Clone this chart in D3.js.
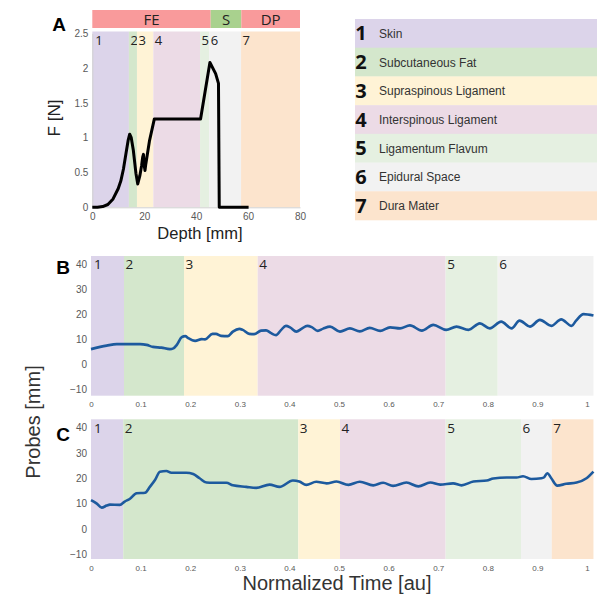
<!DOCTYPE html>
<html><head><meta charset="utf-8">
<script src="https://cdn.jsdelivr.net/npm/d3@7"></script>
<style>body{margin:0;background:#fff}svg{display:block}</style>
</head><body>
<svg id="c" width="611" height="596"></svg>
<script>
// ---- data ----
const tissueIds = [1,2,3,4,5,6,7];
const tissueNames = ["Skin","Subcutaneous Fat","Supraspinous Ligament","Interspinous Ligament","Ligamentum Flavum","Epidural Space","Dura Mater"];
const tissueColors = ["#dcd4ea","#d4e7cc","#fff3d6","#ecdbe6","#e5f0e1","#f2f2f2","#fce4cd"];

const phaseNames = ["FE","S","DP"];
const phaseEdges = [0,45.6,57.4,80];
const phaseColors = ["#f99a9b","#a9d18e","#f99a9b"];

const bandEdgesA = [0,14.1,17.2,23.5,41.5,45,57.3,80];
const bandEdgesB = [0,0.0665,0.1875,0.336,0.715,0.82,1.013];
const bandEdgesC = [0,0.065,0.418,0.502,0.715,0.867,0.929,1.013];

const depthA = [0,2,4,6,8,10,11,12,13,13.8,14.4,15,15.8,16.8,17.5,18.3,19.0,19.4,19.7,20.0,20.3,20.6,22,23.9,41.7,45.3,47.5,48.6,48.9,60.2];
const forceA = [0,0,0.01,0.04,0.12,0.27,0.38,0.55,0.78,0.96,1.05,1.0,0.82,0.49,0.335,0.45,0.6,0.72,0.76,0.6,0.53,0.62,0.95,1.27,1.27,2.08,1.92,1.78,0,0];

const timeB = [0,0.0316,0.052,0.0988,0.112,0.125,0.142,0.159,0.166,0.173,0.183,0.190,0.196,0.21,0.223,0.23,0.245,0.252,0.262,0.276,0.286,0.299,0.306,0.319,0.329,0.343,0.353,0.363,0.373,0.383,0.393,0.402,0.414,0.425,0.436,0.445,0.457,0.468,0.482,0.502,0.522,0.542,0.562,0.583,0.603,0.623,0.643,0.667,0.69,0.716,0.737,0.761,0.784,0.804,0.827,0.848,0.864,0.885,0.905,0.928,0.948,0.969,0.978,0.993,1.013];
const probeB = [6.0,7.4,8.0,8.0,7.7,6.9,6.6,6.0,6.3,7.7,10.8,11.2,10.4,9.3,10.0,9.9,12.1,12.1,11.3,11.2,13.0,14.1,13.7,12.1,12.0,13.4,13.5,12.4,11.6,13.6,15.3,14.6,13.0,14.2,15.3,14.8,13.3,14.2,15.0,13.0,14.3,13.1,14.5,13.3,14.7,14.3,15.5,13.4,15.7,13.7,15.0,13.7,16.3,14.3,17.0,14.3,17.4,15.0,17.7,15.3,17.9,15.3,17.4,20.0,19.4];

const timeC = [0,0.011,0.0215,0.0316,0.038,0.058,0.068,0.078,0.092,0.109,0.119,0.129,0.139,0.152,0.162,0.192,0.206,0.219,0.233,0.246,0.273,0.286,0.313,0.333,0.360,0.38,0.407,0.42,0.434,0.454,0.475,0.495,0.519,0.542,0.569,0.589,0.609,0.636,0.66,0.684,0.704,0.73,0.747,0.771,0.798,0.811,0.838,0.858,0.871,0.888,0.908,0.913,0.920,0.928,0.94,0.958,0.979,0.999,1.013];
const probeC = [11.4,10.1,8.4,9.2,9.6,9.5,10.8,11.8,14.1,14.3,16.7,19.3,22.6,22.9,22.2,22.2,21.7,20.0,18.3,18.2,18.2,17.2,16.6,16.2,17.5,16.6,19.1,18.7,17.4,18.6,18.0,18.7,17.4,18.6,17.2,18.2,17.0,18.3,16.8,18.3,17.5,18.0,17.2,18.7,19.1,19.9,20.3,20.3,20.8,19.7,20.0,20.3,22.0,20.0,17.1,17.8,18.3,20.0,22.6];

const ticksA_x = [0,20,40,60,80];
const ticksA_y = [0,0.5,1,1.5,2,2.5];
const ticksBC_x = [0,0.1,0.2,0.3,0.4,0.5,0.6,0.7,0.8,0.9,1];
const ticksBC_y = [-10,0,10,20,30,40];

// ---- drawing ----
const svg = d3.select("#c");
const tickCol = "#595959";
const sansF = "'Liberation Sans', Arial, sans-serif";
const digitF = "'Open Sans', 'Noto Sans', sans-serif";

// Panel A
const xA = d3.scaleLinear().domain([0,80]).range([92.3,300]);
const yA = d3.scaleLinear().domain([0,2.5]).range([207.3,33.3]);
const gA = svg.append("g");
for (let i=0;i<7;i++){
  gA.append("rect").attr("x",xA(bandEdgesA[i])).attr("y",31.5)
    .attr("width",xA(bandEdgesA[i+1])-xA(bandEdgesA[i])).attr("height",yA(0)-31.5)
    .attr("fill",tissueColors[i]);
  gA.append("text").attr("x",xA(bandEdgesA[i])+ (i==0?3:1.5)).attr("y",45)
    .attr("font-family",digitF).attr("font-size",13).attr("fill","#222").text(tissueIds[i]);
}
for (let i=0;i<3;i++){
  gA.append("rect").attr("x",xA(phaseEdges[i])).attr("y",10)
    .attr("width",xA(phaseEdges[i+1])-xA(phaseEdges[i])).attr("height",18).attr("fill",phaseColors[i]);
  gA.append("text").attr("x",(xA(phaseEdges[i])+xA(phaseEdges[i+1]))/2).attr("y",24.5)
    .attr("text-anchor","middle").attr("font-family",digitF).attr("font-size",15).attr("fill","#222").text(phaseNames[i]);
}
const axAx = gA.append("g").attr("transform",`translate(0,${yA(0)})`)
  .call(d3.axisBottom(xA).tickValues(ticksA_x).tickSize(0).tickPadding(6));
const axAy = gA.append("g").attr("transform",`translate(${xA(0)},0)`)
  .call(d3.axisLeft(yA).tickValues(ticksA_y).tickSize(0).tickPadding(4).tickFormat(d3.format("~g")));
[axAx,axAy].forEach(a=>{a.select(".domain").attr("stroke","#d0d0d0");
  a.selectAll("text").attr("font-family",sansF).attr("font-size",10).attr("fill",tickCol);});
gA.append("path").datum(depthA.map((d,i)=>[d,forceA[i]]))
  .attr("d",d3.line().x(d=>xA(d[0])).y(d=>yA(d[1])))
  .attr("fill","none").attr("stroke","#000").attr("stroke-width",3).attr("stroke-linejoin","round");
gA.append("text").attr("transform","translate(60,118) rotate(-90)").attr("text-anchor","middle")
  .attr("font-family",sansF).attr("font-size",17).attr("fill","#222").text("F [N]");
gA.append("text").attr("x",200).attr("y",239).attr("text-anchor","middle")
  .attr("font-family",sansF).attr("font-size",16.5).attr("fill","#222").text("Depth [mm]");
svg.append("text").attr("x",59).attr("y",31).attr("text-anchor","middle").attr("font-family",sansF)
  .attr("font-weight","bold").attr("font-size",19).text("A");

// Legend
const legX0 = 355, legX1 = 597, legY0 = 19, legRow = (220-19)/7;
const gL = svg.append("g");
tissueNames.forEach((n,i)=>{
  const y = legY0 + i*legRow;
  gL.append("rect").attr("x",legX0).attr("y",y).attr("width",legX1-legX0).attr("height",legRow+0.3)
    .attr("fill",tissueColors[i]);
  gL.append("text").attr("x",361).attr("y",y+legRow/2+7).attr("text-anchor","middle")
    .attr("font-family",digitF).attr("font-weight","bold").attr("font-size",20).attr("fill","#111").text(tissueIds[i]);
  gL.append("text").attr("x",379).attr("y",y+legRow/2+4.5)
    .attr("font-family",sansF).attr("font-size",12).attr("fill","#333").text(n);
});

// Panels B and C
function probePanel(top,bottom,yTop,yBottom,edges,times,vals,letter,letterY){
  const x = d3.scaleLinear().domain([0,1]).range([91,587]);
  const y = d3.scaleLinear().domain([yBottom,yTop]).range([bottom,top]);
  const g = svg.append("g");
  for (let i=0;i<edges.length-1;i++){
    g.append("rect").attr("x",x(edges[i])).attr("y",top).attr("width",x(edges[i+1])-x(edges[i]))
      .attr("height",bottom-top).attr("fill",tissueColors[i]);
    g.append("text").attr("x",x(edges[i])+(i==0?3:1.5)).attr("y",y(40)+5)
      .attr("font-family",digitF).attr("font-size",13.5).attr("fill","#222").text(tissueIds[i]);
  }
  const ax = g.append("g").attr("transform",`translate(0,${bottom})`)
    .call(d3.axisBottom(x).tickValues(ticksBC_x).tickSize(0).tickPadding(6).tickFormat(d3.format("~g")));
  const ay = g.append("g").attr("transform",`translate(${x(0)},0)`)
    .call(d3.axisLeft(y).tickValues(ticksBC_y).tickSize(0).tickPadding(4));
  ax.selectAll("text").attr("font-family",sansF).attr("font-size",8).attr("fill",tickCol);
  ay.selectAll("text").attr("font-family",sansF).attr("font-size",10).attr("fill",tickCol);
  ax.select(".domain").remove(); ay.select(".domain").remove();
  g.append("path").datum(times.map((t,i)=>[t,vals[i]]))
    .attr("d",d3.line().curve(d3.curveMonotoneX).x(d=>x(d[0])).y(d=>y(d[1])))
    .attr("fill","none").attr("stroke","#1d5a9e").attr("stroke-width",2.6).attr("stroke-linejoin","round");
  svg.append("text").attr("x",63).attr("y",letterY).attr("text-anchor","middle").attr("font-family",sansF)
    .attr("font-weight","bold").attr("font-size",19).text(letter);
}
probePanel(256,395.7,43.2,-12.6,bandEdgesB,timeB,probeB,"B",274);
probePanel(419.3,559,43.3,-11.9,bandEdgesC,timeC,probeC,"C",441);

svg.append("text").attr("transform","translate(40,422) rotate(-90)").attr("text-anchor","middle")
  .attr("font-family",sansF).attr("font-size",20).attr("fill","#333").text("Probes [mm]");
svg.append("text").attr("x",337).attr("y",590).attr("text-anchor","middle")
  .attr("font-family",sansF).attr("font-size",20).attr("fill","#333").text("Normalized Time [au]");
</script>
</body></html>
